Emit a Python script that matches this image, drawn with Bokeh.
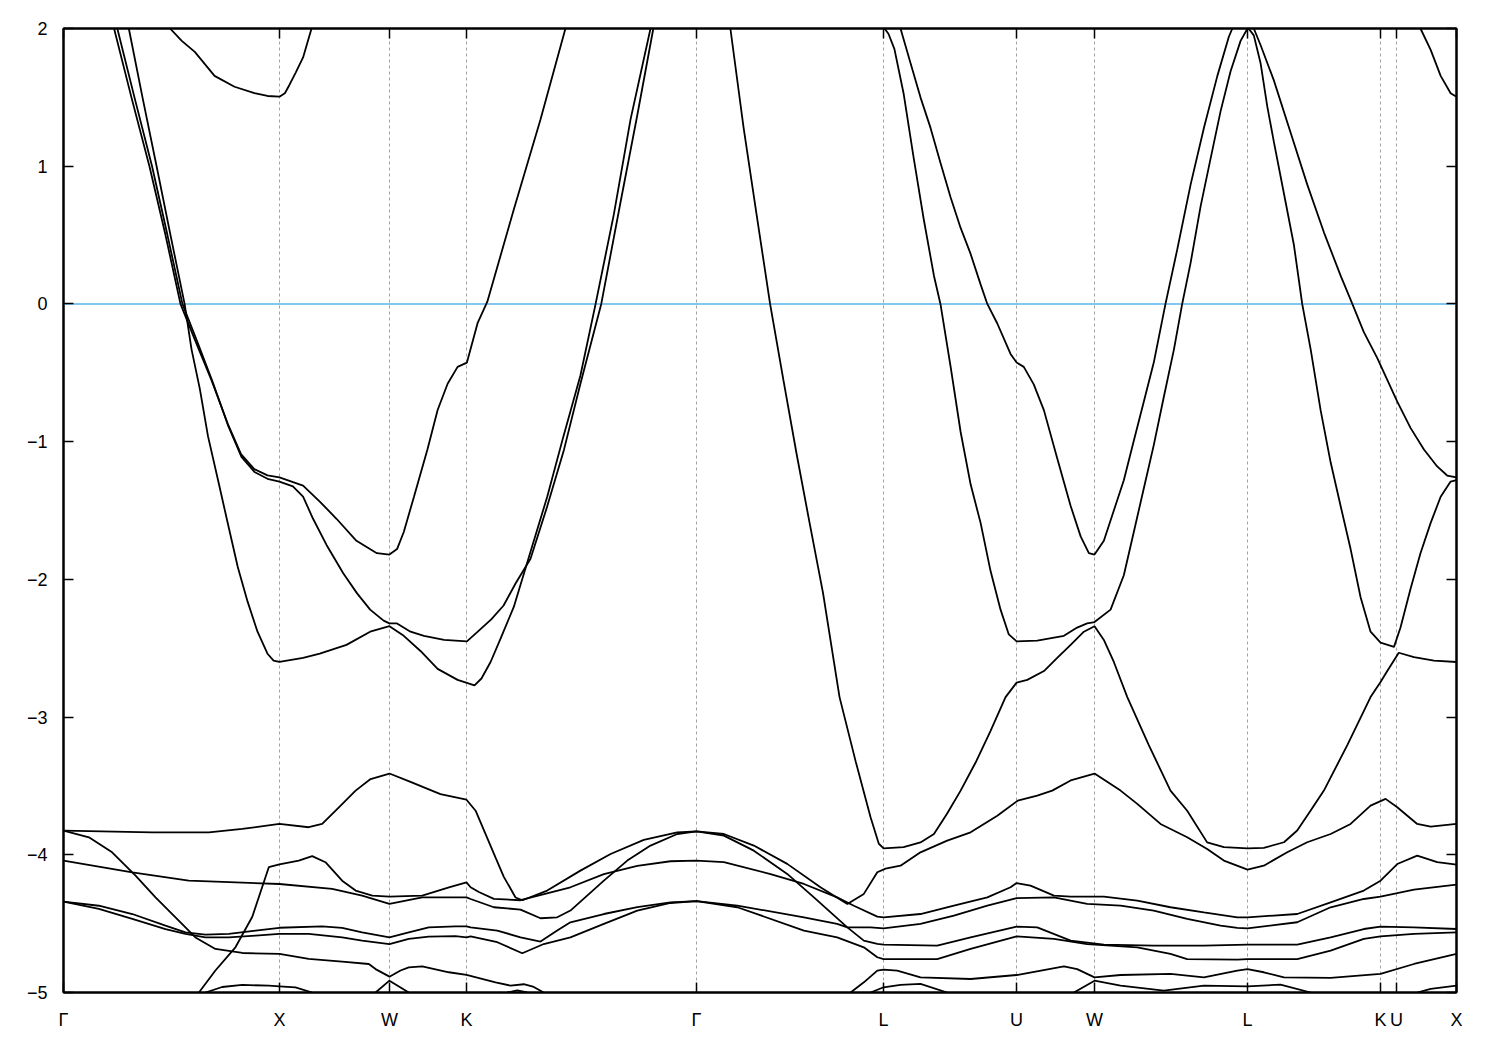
from bokeh.plotting import figure
from bokeh.models import FixedTicker, Range1d, LinearAxis
from bokeh.embed import file_html
from bokeh.resources import INLINE

# ---- high-symmetry path (k in units of 2*pi/a) ----
kpoints = [0.0, 0.995, 1.502, 1.857, 2.917, 3.779, 4.392, 4.751, 5.456, 6.069, 6.143, 6.419]
klabels = ["Γ", "X", "W", "K", "Γ", "L", "U", "W", "L", "K", "U", "X"]
energy_ticks = [-5, -4, -3, -2, -1, 0, 1, 2]
fermi_level = 0.0

# ---- bands (k, E in eV) ----
k_top_gx = [0.491, 0.545, 0.605, 0.696, 0.788, 0.880, 0.940, 0.995, 1.020, 1.041, 1.070, 1.104, 1.143]
e_top_gx = [2.0, 1.91, 1.83, 1.656, 1.577, 1.53, 1.51, 1.505, 1.53, 1.59, 1.68, 1.79, 2.0]

k_top_ux = [6.253, 6.300, 6.346, 6.392, 6.419]
e_top_ux = [2.0, 1.845, 1.656, 1.53, 1.505]

k_s = [0.301, 0.364, 0.429, 0.493, 0.558, 0.590, 0.628, 0.666, 0.712, 0.757, 0.803, 0.848, 0.894,
       0.940, 0.968, 0.995, 1.104, 1.181, 1.304, 1.413, 1.502, 1.568, 1.645, 1.724, 1.816, 1.894,
       1.926, 1.968, 2.014, 2.075, 2.152, 2.229, 2.304, 2.382, 2.452, 2.536, 2.613, 2.705]
e_s = [2.0, 1.5, 1.0, 0.5, 0.0, -0.33, -0.615, -0.962, -1.278, -1.593, -1.91, -2.16, -2.38,
       -2.54, -2.59, -2.6, -2.57, -2.54, -2.476, -2.38, -2.34, -2.41, -2.52, -2.65, -2.73, -2.77,
       -2.72, -2.60, -2.43, -2.20, -1.80, -1.40, -0.96, -0.52, 0.0, 0.65, 1.34, 2.0]

k_d1 = [0.233, 0.313, 0.396, 0.470, 0.539, 0.608, 0.681, 0.757, 0.818, 0.879, 0.940, 0.995, 1.104,
        1.181, 1.258, 1.350, 1.444, 1.502, 1.537, 1.568, 1.615, 1.677, 1.724, 1.770, 1.816, 1.859,
        1.908, 1.953, 2.074, 2.198, 2.313]
e_d1 = [2.0, 1.5, 1.0, 0.5, 0.0, -0.27, -0.55, -0.87, -1.09, -1.20, -1.245, -1.26, -1.32,
        -1.435, -1.56, -1.72, -1.81, -1.82, -1.78, -1.656, -1.40, -1.057, -0.77, -0.58, -0.457, -0.426,
        -0.14, 0.016, 0.68, 1.34, 2.0]

k_d2 = [0.248, 0.327, 0.408, 0.479, 0.548, 0.618, 0.687, 0.760, 0.820, 0.880, 0.940, 0.995, 1.057,
        1.104, 1.150, 1.212, 1.289, 1.352, 1.413, 1.475, 1.502, 1.537, 1.599, 1.661, 1.754, 1.859,
        1.909, 1.971, 2.028, 2.083, 2.152, 2.229, 2.306, 2.382, 2.478, 2.567, 2.644, 2.718]
e_d2 = [2.0, 1.5, 1.0, 0.5, 0.0, -0.28, -0.565, -0.89, -1.11, -1.22, -1.27, -1.29, -1.325,
        -1.40, -1.56, -1.75, -1.956, -2.1, -2.22, -2.30, -2.32, -2.32, -2.38, -2.41, -2.44, -2.45,
        -2.38, -2.29, -2.19, -2.03, -1.85, -1.47, -1.06, -0.58, 0.0, 0.74, 1.37, 2.0]

k_g = [3.073, 3.134, 3.194, 3.256, 3.317, 3.378, 3.438, 3.500, 3.576, 3.650, 3.719, 3.757, 3.779,
       3.871, 3.949, 4.011, 4.072, 4.134, 4.203, 4.272, 4.341, 4.392, 4.441, 4.518, 4.579, 4.641,
       4.702, 4.751, 4.794, 4.840, 4.902, 5.000, 5.101, 5.178, 5.270, 5.347, 5.456, 5.531, 5.624,
       5.685, 5.747, 5.808, 5.917, 6.023, 6.069, 6.100, 6.153, 6.223, 6.315, 6.419]
e_g = [2.0, 1.278, 0.647, 0.0, -0.55, -1.088, -1.59, -2.10, -2.855, -3.32, -3.727, -3.92, -3.953,
       -3.945, -3.91, -3.849, -3.70, -3.534, -3.33, -3.10, -2.855, -2.75, -2.73, -2.666, -2.57, -2.476,
       -2.38, -2.34, -2.44, -2.60, -2.855, -3.2, -3.534, -3.68, -3.91, -3.945, -3.953, -3.95, -3.909,
       -3.824, -3.679, -3.534, -3.2, -2.855, -2.745, -2.666, -2.533, -2.565, -2.59, -2.60]

k_l1 = [3.779, 3.802, 3.829, 3.871, 3.918, 3.964, 4.011, 4.041, 4.088, 4.134, 4.180, 4.226, 4.272,
        4.318, 4.356, 4.392, 4.487, 4.610, 4.671, 4.717, 4.751, 4.825, 4.886, 4.932, 4.978, 5.024,
        5.070, 5.117, 5.155, 5.194, 5.240, 5.286, 5.332, 5.378, 5.424, 5.456]
e_l1 = [2.01, 1.96, 1.85, 1.53, 1.057, 0.615, 0.205, 0.0, -0.457, -0.93, -1.31, -1.59, -1.94,
        -2.22, -2.40, -2.45, -2.445, -2.41, -2.35, -2.32, -2.31, -2.22, -1.97, -1.656, -1.34, -1.025,
        -0.678, -0.33, 0.0, 0.30, 0.71, 1.057, 1.40, 1.69, 1.91, 2.0]

k_l2 = [3.857, 3.903, 3.949, 3.995, 4.041, 4.088, 4.134, 4.180, 4.226, 4.257, 4.303, 4.364, 4.392,
        4.425, 4.471, 4.518, 4.579, 4.641, 4.687, 4.725, 4.751, 4.794, 4.840, 4.886, 4.932, 4.978,
        5.024, 5.078, 5.132, 5.194, 5.255, 5.317, 5.370, 5.386]
e_l2 = [2.0, 1.75, 1.50, 1.28, 1.025, 0.773, 0.552, 0.363, 0.142, 0.0, -0.142, -0.363, -0.426,
        -0.457, -0.584, -0.773, -1.12, -1.467, -1.688, -1.81, -1.82, -1.72, -1.50, -1.28, -0.994, -0.71,
        -0.426, 0.0, 0.394, 0.868, 1.278, 1.656, 1.94, 2.0]

k_r1 = [5.456, 5.485, 5.516, 5.547, 5.577, 5.624, 5.670, 5.708, 5.747, 5.793, 5.839, 5.885, 5.931,
        5.977, 6.023, 6.069, 6.131, 6.161, 6.207, 6.253, 6.300, 6.346, 6.392, 6.419]
e_r1 = [2.01, 1.95, 1.75, 1.435, 1.18, 0.80, 0.426, 0.0, -0.33, -0.773, -1.15, -1.467, -1.78,
        -2.13, -2.38, -2.46, -2.49, -2.35, -2.07, -1.81, -1.59, -1.40, -1.29, -1.28]

k_r2 = [5.485, 5.516, 5.577, 5.654, 5.731, 5.808, 5.885, 5.939, 5.992, 6.054, 6.100, 6.146, 6.207,
        6.269, 6.330, 6.376, 6.419]
e_r2 = [2.0, 1.88, 1.625, 1.246, 0.868, 0.52, 0.205, 0.0, -0.205, -0.394, -0.552, -0.71, -0.9,
        -1.057, -1.18, -1.246, -1.26]

k_c1 = [0.0, 0.409, 0.670, 0.824, 0.995, 1.130, 1.192, 1.269, 1.346, 1.415, 1.502, 1.599, 1.737,
        1.857, 1.899, 1.945, 1.991, 2.029, 2.083, 2.115, 2.229, 2.382, 2.521, 2.674, 2.828, 2.917,
        3.043, 3.181, 3.335, 3.488, 3.612, 3.688, 3.750, 3.788, 3.857, 3.949, 4.072, 4.180, 4.303,
        4.397, 4.487, 4.556, 4.641, 4.751, 4.871, 4.948, 5.055, 5.178, 5.270, 5.347, 5.456, 5.531,
        5.639, 5.731, 5.839, 5.931, 6.023, 6.092, 6.146, 6.238, 6.300, 6.419]
e_c1 = [-3.825, -3.837, -3.837, -3.812, -3.776, -3.80, -3.776, -3.655, -3.534, -3.45, -3.41, -3.47, -3.56,
        -3.60, -3.68, -3.85, -4.02, -4.16, -4.31, -4.33, -4.26, -4.115, -3.994, -3.892, -3.837, -3.83,
        -3.849, -3.933, -4.066, -4.236, -4.357, -4.284, -4.127, -4.10, -4.079, -3.982, -3.897, -3.837, -3.716,
        -3.607, -3.57, -3.534, -3.46, -3.41, -3.534, -3.63, -3.776, -3.873, -3.958, -4.042, -4.108, -4.079,
        -3.982, -3.909, -3.849, -3.776, -3.643, -3.594, -3.655, -3.776, -3.795, -3.776]

k_p = [0.0, 0.317, 0.577, 0.995, 1.238, 1.376, 1.502, 1.653, 1.776, 1.857, 1.876, 1.983, 2.106,
       2.198, 2.275, 2.336, 2.490, 2.598, 2.705, 2.828, 2.917, 3.043, 3.181, 3.335, 3.458, 3.612,
       3.688, 3.750, 3.779, 4.026, 4.180, 4.392, 4.487, 4.641, 4.794, 5.024, 5.255, 5.456, 5.685,
       5.839, 5.992, 6.069, 6.223, 6.419]
e_p = [-4.042, -4.127, -4.188, -4.212, -4.248, -4.296, -4.357, -4.309, -4.309, -4.309, -4.321, -4.381, -4.398,
       -4.461, -4.454, -4.405, -4.188, -4.042, -3.933, -3.849, -3.83, -3.861, -3.97, -4.139, -4.309, -4.527,
       -4.623, -4.647, -4.652, -4.66, -4.6, -4.522, -4.527, -4.623, -4.652, -4.66, -4.66, -4.652, -4.652,
       -4.6, -4.539, -4.522, -4.527, -4.539]

k_q = [0.624, 0.700, 0.793, 0.870, 0.946, 0.995, 1.084, 1.146, 1.207, 1.284, 1.346, 1.423, 1.502,
       1.653, 1.776, 1.857, 1.876, 1.914, 1.983, 2.106, 2.336, 2.490, 2.644, 2.797, 2.917, 3.043,
       3.258, 3.412, 3.565, 3.642, 3.750, 3.779, 3.949, 4.103, 4.257, 4.364, 4.392, 4.456, 4.564,
       4.641, 4.794, 4.948, 5.101, 5.255, 5.409, 5.456, 5.685, 5.839, 5.992, 6.069, 6.146, 6.238,
       6.330, 6.419]
e_q = [-5.0, -4.84, -4.67, -4.45, -4.09, -4.07, -4.042, -4.01, -4.054, -4.188, -4.26, -4.296, -4.304,
       -4.296, -4.236, -4.20, -4.236, -4.27, -4.32, -4.33, -4.236, -4.14, -4.08, -4.047, -4.042, -4.054,
       -4.14, -4.212, -4.309, -4.37, -4.449, -4.454, -4.43, -4.369, -4.309, -4.236, -4.205, -4.224, -4.297,
       -4.304, -4.304, -4.333, -4.381, -4.418, -4.454, -4.454, -4.43, -4.345, -4.26, -4.188, -4.067, -4.006,
       -4.054, -4.071]

k_ld = [0.0, 0.163, 0.317, 0.470, 0.562, 0.654, 0.762, 0.885, 0.995, 1.192, 1.284, 1.376, 1.502,
        1.591, 1.683, 1.806, 1.857, 1.876, 1.999, 2.106, 2.198, 2.275, 2.336, 2.490, 2.644, 2.797,
        2.917, 3.105, 3.412, 3.565, 3.612, 3.719, 3.779, 3.949, 4.103, 4.257, 4.392, 4.564, 4.717,
        4.871, 5.024, 5.178, 5.332, 5.409, 5.456, 5.685, 5.839, 5.992, 6.069, 6.223, 6.419]
e_ld = [-4.34, -4.37, -4.43, -4.515, -4.563, -4.58, -4.575, -4.55, -4.53, -4.52, -4.53, -4.563, -4.60,
        -4.563, -4.527, -4.52, -4.52, -4.527, -4.55, -4.60, -4.63, -4.55, -4.49, -4.43, -4.38, -4.345,
        -4.337, -4.369, -4.454, -4.502, -4.527, -4.527, -4.534, -4.502, -4.442, -4.369, -4.314, -4.309, -4.357,
        -4.369, -4.405, -4.466, -4.514, -4.531, -4.534, -4.49, -4.381, -4.321, -4.304, -4.253, -4.217]

k_le = [0.0, 0.163, 0.317, 0.470, 0.562, 0.654, 0.762, 0.885, 0.995, 1.130, 1.284, 1.376, 1.502,
        1.591, 1.683, 1.806, 1.857, 1.876, 1.999, 2.114, 2.213, 2.336, 2.490, 2.644, 2.797, 2.917,
        3.105, 3.412, 3.565, 3.688, 3.750, 3.779, 4.026, 4.180, 4.392, 4.564, 4.717, 4.948, 5.101,
        5.178, 5.409, 5.456, 5.685, 5.839, 5.992, 6.069, 6.223, 6.419]
e_le = [-4.34, -4.393, -4.466, -4.54, -4.575, -4.60, -4.60, -4.587, -4.575, -4.575, -4.60, -4.623, -4.648,
        -4.61, -4.594, -4.59, -4.60, -4.592, -4.635, -4.715, -4.648, -4.60, -4.502, -4.405, -4.35, -4.337,
        -4.381, -4.55, -4.60, -4.672, -4.744, -4.757, -4.757, -4.684, -4.592, -4.611, -4.648, -4.672, -4.72,
        -4.757, -4.761, -4.757, -4.757, -4.696, -4.611, -4.592, -4.575, -4.563]

k_lb = [0.0, 0.117, 0.224, 0.332, 0.424, 0.516, 0.608, 0.700, 0.824, 0.995, 1.130, 1.284, 1.407,
        1.438, 1.502, 1.553, 1.591, 1.653, 1.776, 1.857, 1.991, 2.060, 2.121, 2.167, 2.213]
e_lb = [-3.825, -3.873, -3.982, -4.151, -4.309, -4.454, -4.60, -4.684, -4.713, -4.72, -4.756, -4.776, -4.793,
        -4.83, -4.885, -4.84, -4.817, -4.81, -4.853, -4.872, -4.926, -4.95, -4.94, -4.96, -5.0]

k_low1 = [3.627, 3.688, 3.750, 3.779, 3.842, 3.949, 4.180, 4.392, 4.610, 4.671, 4.751, 4.871, 5.101,
          5.255, 5.409, 5.456, 5.531, 5.624, 5.839, 6.069, 6.223, 6.419]
e_low1 = [-5.0, -4.926, -4.841, -4.834, -4.841, -4.89, -4.902, -4.873, -4.81, -4.83, -4.89, -4.873, -4.865,
          -4.89, -4.841, -4.83, -4.853, -4.89, -4.894, -4.865, -4.793, -4.72]

k_low2 = [3.719, 3.779, 3.857, 3.949, 4.072]
e_low2 = [-5.0, -4.962, -4.945, -4.938, -5.0]

k_low3 = [4.656, 4.751, 4.871, 5.070, 5.255, 5.456, 5.608, 5.747]
e_low3 = [-5.0, -4.914, -4.95, -4.987, -4.95, -4.955, -4.943, -5.0]

k_low4 = [6.238, 6.300, 6.419]
e_low4 = [-5.0, -4.974, -4.95]

k_low_x = [0.654, 0.731, 0.824, 0.946, 0.995, 1.069, 1.146]
e_low_x = [-5.0, -4.96, -4.945, -4.95, -4.955, -4.963, -5.0]

k_low_w = [1.438, 1.502, 1.591]
e_low_w = [-5.0, -4.914, -5.0]

k_low_kg = [2.045, 2.091, 2.137]
e_low_kg = [-5.0, -4.985, -5.0]

bands = [
    (k_top_gx, e_top_gx), (k_top_ux, e_top_ux), (k_s, e_s), (k_d1, e_d1), (k_d2, e_d2),
    (k_g, e_g), (k_l1, e_l1), (k_l2, e_l2), (k_r1, e_r1), (k_r2, e_r2),
    (k_c1, e_c1), (k_p, e_p), (k_q, e_q), (k_ld, e_ld), (k_le, e_le), (k_lb, e_lb),
    (k_low1, e_low1), (k_low2, e_low2), (k_low3, e_low3), (k_low4, e_low4),
    (k_low_x, e_low_x), (k_low_w, e_low_w), (k_low_kg, e_low_kg),
]

FONT = "Liberation Sans"
emin, emax = energy_ticks[0], energy_ticks[-1]

p = figure(frame_width=1393, frame_height=964,
           x_range=Range1d(kpoints[0], kpoints[-1]), y_range=Range1d(emin, emax),
           output_backend="svg", toolbar_location=None,
           min_border_left=63, min_border_top=28, min_border_right=30, min_border_bottom=50,
           background_fill_color="white", border_fill_color="white")
p.outline_line_color = "black"
p.outline_line_width = 2

# the figure's own axes (bottom, left) — fetched before mirrored axes are added
xax = p.below[0]
yax = p.left[0]

# vertical dashed lines at interior high-symmetry points
p.xgrid.ticker = FixedTicker(ticks=kpoints[1:-1])
p.xgrid.grid_line_color = "#a0a0a0"
p.xgrid.grid_line_dash = "3 3"
p.xgrid.grid_line_width = 1
p.ygrid.visible = False

# Fermi level
p.line([kpoints[0], kpoints[-1]], [fermi_level, fermi_level], line_color="#56B4E9", line_width=1.6)

for kk, ee in bands:
    p.line(kk, ee, line_color="black", line_width=1.8)

xticker = FixedTicker(ticks=kpoints)
yticker = FixedTicker(ticks=energy_ticks)

top_axis = LinearAxis(ticker=xticker)
right_axis = LinearAxis(ticker=yticker)
p.add_layout(top_axis, "above")
p.add_layout(right_axis, "right")

xax.ticker = xticker
xax.major_label_overrides = {k: lab for k, lab in zip(kpoints, klabels)}
yax.ticker = yticker
for ax in (xax, yax, top_axis, right_axis):
    ax.axis_line_color = "black"
    ax.axis_line_width = 2
    ax.major_tick_in = 10
    ax.major_tick_out = 0
    ax.major_tick_line_color = "black"
    ax.major_tick_line_width = 1.5
    ax.minor_tick_line_color = None
    ax.major_label_text_font = FONT
    ax.major_label_text_font_size = "18px"
    ax.major_label_text_color = "black"
# mirrored axes carry ticks only
for ax in (top_axis, right_axis):
    ax.major_label_text_color = None
    ax.major_label_standoff = 0
xax.major_label_standoff = 17
yax.major_label_standoff = 16

open("out.html", "w").write(file_html(p, INLINE))
